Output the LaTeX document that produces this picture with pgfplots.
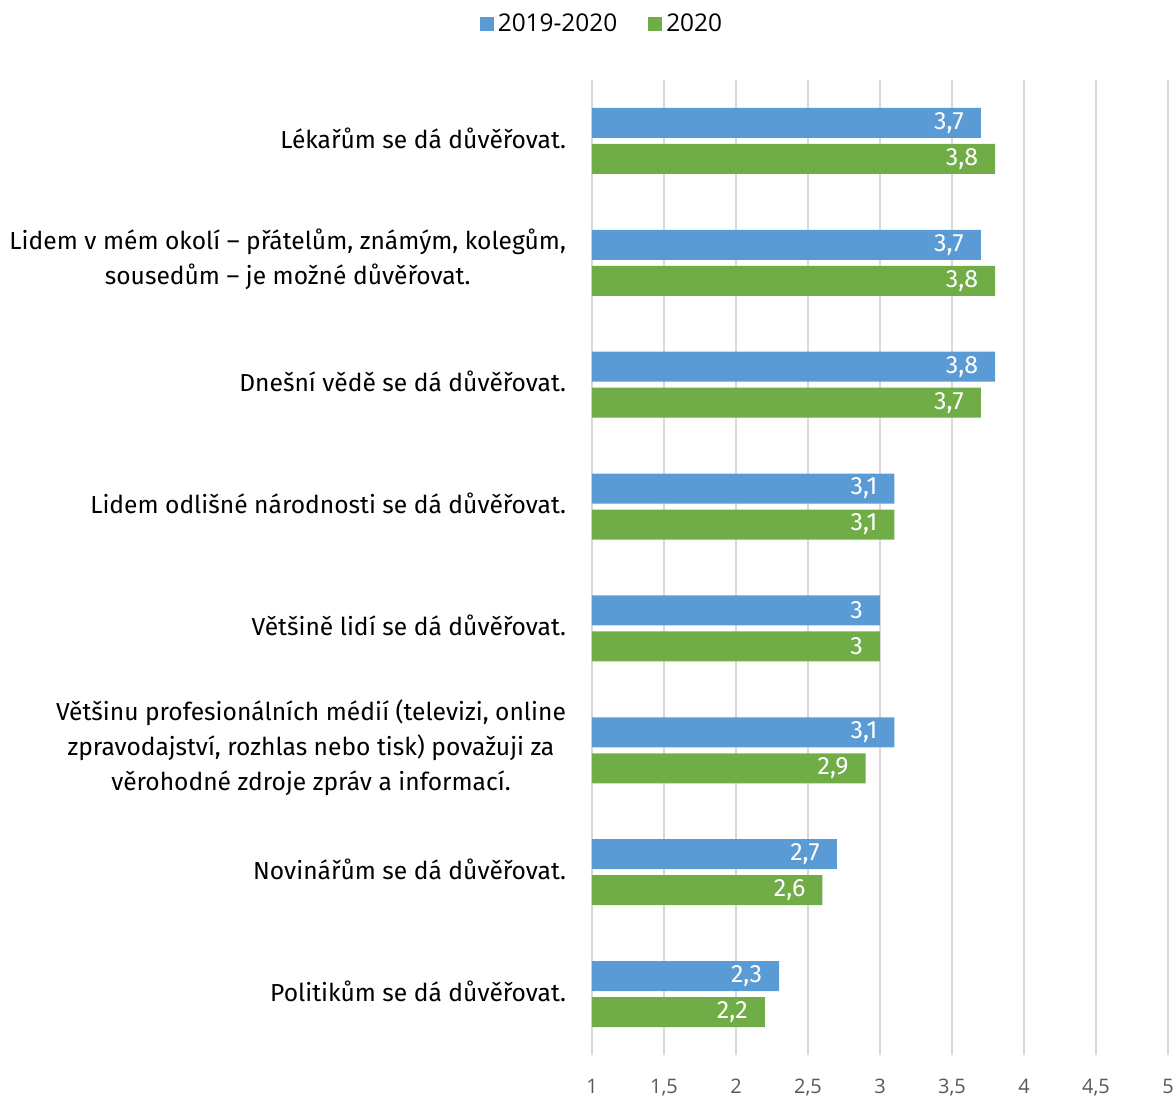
\documentclass[border=0pt]{standalone}
\usepackage{fontspec}
\setmainfont{Fira Sans}
\newfontfamily\uifont{Open Sans}
\usepackage{pgfplots}
\pgfplotsset{compat=1.18}
\usetikzlibrary{calc}

\definecolor{serA}{HTML}{5B9BD5}
\definecolor{serB}{HTML}{70AD47}
\definecolor{gridc}{HTML}{D9D9D9}
\definecolor{tickc}{HTML}{595959}

\begin{document}
\begin{tikzpicture}
\begin{axis}[
  name=ax,
  scale only axis,
  width=288pt, height=487.5pt,
  xmin=1, xmax=5,
  ymin=-0.5, ymax=7.5,
  xtick={1,1.5,...,5},
  ytick={0,...,7},
  yticklabels={
    {Politikům se dá důvěřovat.},
    {Novinářům se dá důvěřovat.},
    {Většinu profesionálních médií (televizi, online\\zpravodajství, rozhlas nebo tisk) považuji za\\věrohodné zdroje zpráv a informací.},
    {Většině lidí se dá důvěřovat.},
    {Lidem odlišné národnosti se dá důvěřovat.},
    {Dnešní vědě se dá důvěřovat.},
    {Lidem v mém okolí – přátelům, známým, kolegům,\\sousedům – je možné důvěřovat.},
    {Lékařům se dá důvěřovat.}
  },
  yticklabel style={align=center, anchor=east, xshift=-9.5pt, yshift=1.5pt,
    font=\fontsize{12.3}{17.5}\selectfont},
  xticklabel style={text=tickc, yshift=-8.5pt,
    font=\uifont\fontsize{10}{12}\selectfont},
  /pgf/number format/.cd, use comma, fixed, precision=1, assume math mode=true,
  /pgfplots/.cd,
  xmajorgrids,
  major grid style={gridc, line width=1pt},
  axis line style={draw=none},
  major tick length=0pt,
  xbar, bar width=15pt,
  point meta=x,
  nodes near coords,
  every node near coord/.append style={anchor=east, text=white, xshift=-5pt,
    font=\fontsize{12.5}{14}\selectfont},
  legend style={at={(rel axis cs:0.019,1.057)}, anchor=center, draw=none,
    legend columns=2, font=\uifont\fontsize{12.2}{14}\selectfont,
    /tikz/every even column/.append style={column sep=13.5pt}},
  legend image code/.code={\path[#1, draw=none] (0pt,-3.5pt) rectangle (7pt,3.5pt);},
]
\addplot[fill=serA, draw=none, bar shift=9pt] coordinates {
  (3.7,7) (3.7,6) (3.8,5) (3.1,4) (3,3) (3.1,2) (2.7,1) (2.3,0)
};
\addlegendentry{2019-2020}
\addplot[fill=serB, draw=none, bar shift=-9pt] coordinates {
  (3.8,7) (3.8,6) (3.7,5) (3.1,4) (3,3) (2.9,2) (2.6,1) (2.2,0)
};
\addlegendentry{2020}
\end{axis}
\pgfresetboundingbox
\path ($(ax.south west)+(-296pt,-21pt)$) rectangle ($(ax.north east)+(4pt,40pt)$);
\end{tikzpicture}
\end{document}
